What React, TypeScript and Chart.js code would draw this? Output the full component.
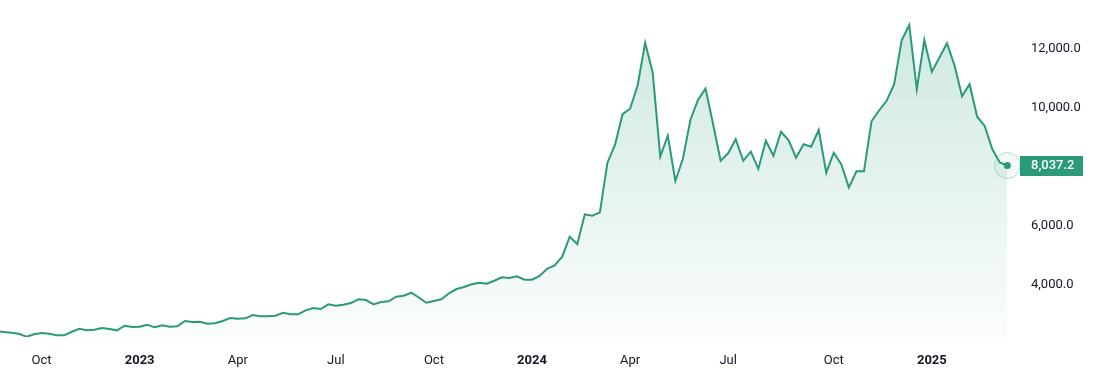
import React, { useEffect, useRef } from 'react';
import { Chart, registerables } from 'chart.js';

Chart.register(...registerables);

// Weekly bars (Mondays), first bar date
const FIRST_WEEK_UTC = [2022, 7, 22];

const VALUES: number[] = [
  2445, 2411, 2387, 2353, 2252, 2333, 2377, 2353, 2299, 2299,
  2421, 2522, 2468, 2489, 2546, 2512, 2468, 2624, 2580, 2590,
  2658, 2570, 2637, 2590, 2604, 2783, 2749, 2759, 2691, 2705,
  2783, 2884, 2860, 2874, 2986, 2942, 2942, 2962, 3063, 3009,
  3009, 3144, 3222, 3188, 3347, 3300, 3334, 3391, 3516, 3493,
  3347, 3425, 3449, 3604, 3638, 3739, 3577, 3401, 3459, 3516,
  3719, 3864, 3932, 4023, 4077, 4043, 4145, 4260, 4236, 4294,
  4179, 4179, 4304, 4550, 4665, 4956, 5632, 5385, 6389, 6342,
  6457, 8133, 8732, 9773, 9958, 10743, 12189, 11175, 8336, 9046,
  7515, 8265, 9587, 10253, 10638, 9441, 8201, 8451, 8928, 8197,
  8508, 7927, 8877, 8366, 9181, 8901, 8302, 8755, 8674, 9239,
  7795, 8471, 8072, 7295, 7843, 7843, 9533, 9898, 10225, 10787,
  12270, 12788, 10618, 12281, 11209, 11689, 12169, 11425, 10378, 10787,
  9688, 9374, 8596, 8140, 8037.2,
];

const Y_TICKS: number[] = [4000, 6000, 10000, 12000];
const TICK_MONTHS: number[] = [0, 3, 6, 9];
const MONTH_NAMES: string[] = ['Jan', 'Feb', 'Mar', 'Apr', 'May', 'Jun', 'Jul', 'Aug', 'Sep', 'Oct', 'Nov', 'Dec'];

const LINE_COLOR = '#2b9a7b';
const TEXT_COLOR = '#131722';
const FONT_FAMILY = 'Roboto, "Noto Sans", sans-serif';

const DAY = 86400000;
const WEEK_DATES: Date[] = VALUES.map(
  (_, i) => new Date(Date.UTC(FIRST_WEEK_UTC[0], FIRST_WEEK_UTC[1], FIRST_WEEK_UTC[2]) + i * 7 * DAY)
);

// first weekly bar of each quarter month
const TICK_INDEX: number[] = [];
const TICK_TEXT: Record<number, string> = {};
WEEK_DATES.forEach((d, i) => {
  if (i === 0) return;
  const m = d.getUTCMonth();
  const pm = WEEK_DATES[i - 1].getUTCMonth();
  if (m !== pm && TICK_MONTHS.includes(m)) {
    TICK_INDEX.push(i);
    TICK_TEXT[i] = m === 0 ? String(d.getUTCFullYear()) : MONTH_NAMES[m];
  }
});

const fmt = (v: number) =>
  v.toLocaleString('en-US', { minimumFractionDigits: 1, maximumFractionDigits: 1 });

const LAST = VALUES.length - 1;

const priceLabel = {
  id: 'priceLabel',
  afterDraw(chart: any) {
    const yScale = chart.scales.y;
    const v = VALUES[LAST];
    const y = yScale.getPixelForValue(v);
    const c = chart.ctx;
    c.save();
    c.font = `500 13px ${FONT_FAMILY}`;
    const text = fmt(v);
    const w = c.measureText(text).width;
    const x0 = yScale.left + 4;
    c.fillStyle = LINE_COLOR;
    c.beginPath();
    c.rect(x0, Math.round(y - 10), Math.round(w + 20), 20);
    c.fill();
    c.fillStyle = '#ffffff';
    c.textBaseline = 'middle';
    c.textAlign = 'left';
    c.fillText(text, x0 + 11, y + 0.5);
    c.restore();
  },
};

const zeroPad = (scale: any) => {
  scale.paddingTop = 0;
  scale.paddingBottom = 0;
  scale.paddingLeft = 0;
  scale.paddingRight = 0;
};

export default function App() {
  const ref = useRef<HTMLCanvasElement | null>(null);

  useEffect(() => {
    document.body.style.margin = '0';
    const canvas = ref.current;
    if (!canvas) return;

    const mainData = VALUES.map((v, i) => ({ x: i, y: v }));
    const haloData = [{ x: LAST, y: VALUES[LAST] }];

    const chart = new Chart(canvas, {
      type: 'line',
      data: {
        datasets: [
          {
            data: mainData,
            borderColor: LINE_COLOR,
            borderWidth: 2,
            tension: 0,
            fill: 'start',
            backgroundColor: (ctx: any) => {
              const { chart } = ctx;
              const area = chart.chartArea;
              if (!area) return 'rgba(43,154,123,0.1)';
              const g = chart.ctx.createLinearGradient(0, area.top, 0, area.bottom);
              g.addColorStop(0, 'rgba(43,154,123,0.24)');
              g.addColorStop(0.6, 'rgba(43,154,123,0.11)');
              g.addColorStop(1, 'rgba(43,154,123,0.02)');
              return g;
            },
            pointRadius: (ctx: any) => (ctx.dataIndex === LAST ? 3.5 : 0),
            pointBackgroundColor: LINE_COLOR,
            pointBorderWidth: 0,
            pointHoverRadius: 0,
          },
          {
            data: haloData,
            showLine: false,
            pointRadius: 13,
            pointBackgroundColor: 'rgba(43,154,123,0.06)',
            pointBorderColor: 'rgba(43,154,123,0.3)',
            pointBorderWidth: 1,
            fill: false,
            clip: false,
          },
        ],
      },
      options: {
        responsive: false,
        animation: false,
        maintainAspectRatio: false,
        layout: { padding: 0, autoPadding: false },
        plugins: {
          legend: { display: false },
          tooltip: { enabled: false },
        },
        scales: {
          x: {
            type: 'linear',
            position: 'bottom',
            min: 0.49,
            max: 135.15,
            bounds: 'data',
            grid: { display: false, drawTicks: false },
            border: { display: false },
            afterBuildTicks: (scale: any) => {
              scale.ticks = TICK_INDEX.map((v) => ({ value: v }));
            },
            afterFit: (scale: any) => {
              scale.height = 53;
              zeroPad(scale);
            },
            ticks: {
              autoSkip: false,
              maxRotation: 0,
              padding: 16,
              color: TEXT_COLOR,
              font: (ctx: any) => {
                const label = ctx.tick ? TICK_TEXT[ctx.tick.value] : '';
                const isYear = /^\d{4}$/.test(label || '');
                return { family: FONT_FAMILY, size: 13, weight: isYear ? 'bold' : 'normal' };
              },
              callback: (value: any) => TICK_TEXT[value as number] ?? '',
            },
          },
          y: {
            type: 'linear',
            position: 'right',
            min: 2243,
            max: 13632,
            grid: { display: false, drawTicks: false },
            border: { display: false },
            afterBuildTicks: (scale: any) => {
              scale.ticks = Y_TICKS.map((v) => ({ value: v }));
            },
            afterFit: (scale: any) => {
              scale.width = 85;
              zeroPad(scale);
            },
            ticks: {
              padding: 15,
              color: TEXT_COLOR,
              font: { family: FONT_FAMILY, size: 13 },
              callback: (value: any) => fmt(Number(value)),
            },
          },
        },
      },
      plugins: [priceLabel],
    } as any);

    return () => chart.destroy();
  }, []);

  return (
    <div style={{ width: 1101, height: 390 }}>
      <canvas ref={ref} width={1101} height={390} style={{ display: 'block' }} />
    </div>
  );
}
